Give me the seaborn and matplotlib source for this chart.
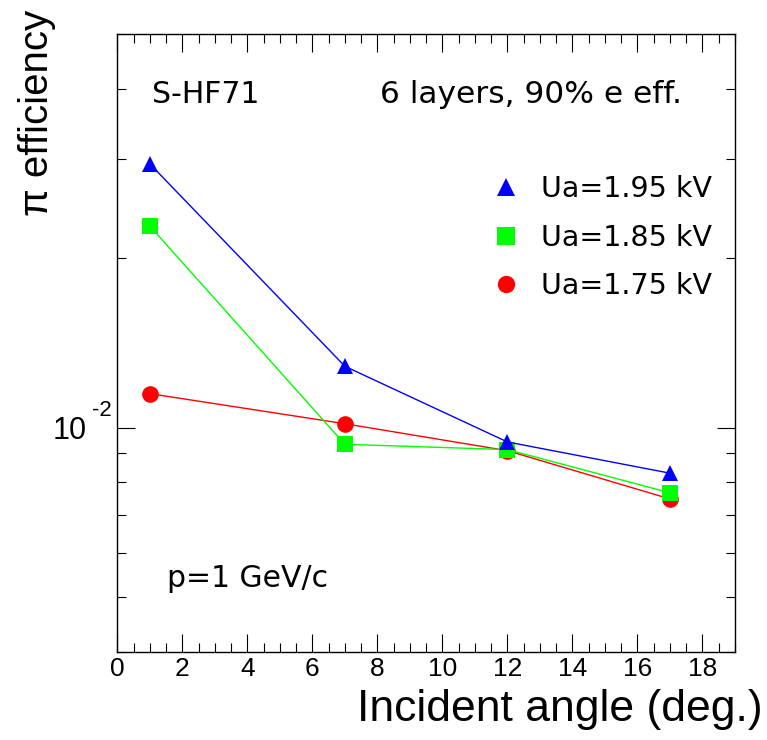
import matplotlib
matplotlib.use("Agg")
import matplotlib.pyplot as plt
from matplotlib.lines import Line2D
from matplotlib.ticker import MultipleLocator, LogLocator, NullFormatter, FixedLocator
import seaborn as sns
import pandas as pd

# ---- data ----
angles = [1, 7, 12, 17]
eff_195 = [0.0294, 0.01285, 0.00943, 0.0083]
eff_185 = [0.0228, 0.00934, 0.00914, 0.00766]
eff_175 = [0.01149, 0.01016, 0.0091, 0.00747]
series_labels = ["Ua=1.95 kV", "Ua=1.85 kV", "Ua=1.75 kV"]
x_ticks = [0, 2, 4, 6, 8, 10, 12, 14, 16, 18]
y_major = [0.01]
y_major_base = ["10"]
y_major_exp = ["-2"]

sns.set_style("white")
plt.rcParams["font.family"] = ["Liberation Sans", "DejaVu Sans"]
plt.rcParams["text.color"] = "black"
plt.rcParams["axes.labelcolor"] = "black"
plt.rcParams["xtick.color"] = "black"
plt.rcParams["ytick.color"] = "black"

df = pd.DataFrame({
    "angle": angles * 3,
    "eff": eff_175 + eff_185 + eff_195,
    "series": [series_labels[2]] * 4 + [series_labels[1]] * 4 + [series_labels[0]] * 4,
})

palette = {series_labels[0]: "#0000ff", series_labels[1]: "#00ff00", series_labels[2]: "#ff0000"}
markers = {series_labels[0]: "^", series_labels[1]: "s", series_labels[2]: "o"}

fig = plt.figure(figsize=(7.67, 7.40), dpi=100)
ax = fig.add_axes([117.3 / 767, 1 - 651.7 / 740, 617.7 / 767, 617.7 / 740])

sns.lineplot(data=df, x="angle", y="eff", hue="series", style="series",
             hue_order=[series_labels[2], series_labels[1], series_labels[0]],
             palette=palette, markers=markers, dashes=False, markersize=12,
             markeredgewidth=0, linewidth=1.0, legend=False, sort=False, ax=ax)

ax.set_yscale("log")
ax.set_xlim(0, 19)
ax.set_ylim(0.004, 0.05)

ax.xaxis.set_major_locator(FixedLocator(x_ticks))
ax.set_xticklabels([str(t) for t in x_ticks])
ax.xaxis.set_minor_locator(MultipleLocator(0.5))
ax.yaxis.set_major_locator(FixedLocator(y_major))
ax.set_yticklabels(y_major_base)
ax.yaxis.set_minor_locator(LogLocator(base=10, subs=[2, 3, 4, 5, 6, 7, 8, 9]))
ax.yaxis.set_minor_formatter(NullFormatter())

ax.tick_params(which="both", direction="in", top=True, right=True, bottom=True, left=True,
               width=0.8, color="black")
ax.tick_params(which="major", length=13)
ax.tick_params(which="minor", length=6.5)
ax.tick_params(axis="x", which="major", labelsize=19, pad=4)
ax.tick_params(axis="y", which="major", labelsize=22, pad=22)

# exponent of the y tick label
for v, e in zip(y_major, y_major_exp):
    ax.text((92 - 117.3) / 617.7, v * 10 ** (12 / 562), e, transform=ax.get_yaxis_transform(),
            fontsize=16, ha="left", va="baseline")

for s in ax.spines.values():
    s.set_visible(True)
    s.set_color("black")
    s.set_linewidth(1.0)

ax.set_xlabel("Incident angle (deg.)", fontsize=32, loc="right")
ax.xaxis.set_label_coords(1.0453, -0.0604)
ax.set_ylabel("π efficiency", fontsize=29, loc="top")
ax.yaxis.set_label_coords(-0.0992, 1.0389)

dv = ["DejaVu Sans"]
ax.text(0.0557, 0.8878, "S-HF71", transform=ax.transAxes, fontsize=21.5, va="baseline", ha="left", family=dv)
ax.text((531.5 - 117.3) / 617.7, 0.8878, "6 layers, 90% e eff.", transform=ax.transAxes,
        fontsize=22.5, va="baseline", ha="center", family=dv)
ax.text((166.7 - 117.3) / 617.7, (651.7 - 587) / 617.7, "p=1 GeV/c", transform=ax.transAxes,
        fontsize=21.5, va="baseline", ha="left", family=dv)

handles = [Line2D([], [], linestyle="none", marker=markers[l], color=palette[l],
                  markersize=12.5, markeredgewidth=0) for l in series_labels]
ax.legend(handles, series_labels, loc="upper left", bbox_to_anchor=(0.6056, 0.772),
          frameon=False, handlelength=1.0, handletextpad=0.75,
          labelspacing=0.73, borderpad=0, borderaxespad=0,
          prop={"family": "DejaVu Sans", "size": 20.5})

fig.savefig("out.png", dpi=100, facecolor="white")
